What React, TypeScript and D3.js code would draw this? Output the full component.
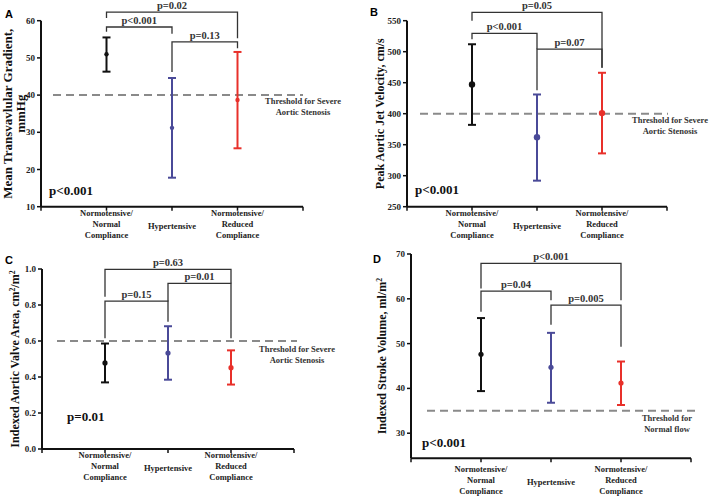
import * as d3 from "d3";

// group labels (shared by all four panels)
const groupLabels: string[][] = [
  ["Normotensive/", "Normal", "Compliance"],
  ["Hypertensive"],
  ["Normotensive/", "Reduced", "Compliance"],
];
const groupColors = ["#111111", "#4a4a98", "#e8302a"];

// A: mean transvalvular gradient, mmHg
const gradientMean = [51.0, 31.2, 38.7];
const gradientUpper = [55.5, 44.6, 51.6];
const gradientLower = [46.3, 17.8, 25.7];
const gradientTicks = [10, 20, 30, 40, 50, 60];

// B: peak aortic jet velocity, cm/s
const velocityMean = [447, 362, 401];
const velocityUpper = [512, 431, 466];
const velocityLower = [382, 292, 336];
const velocityTicks = [250, 300, 350, 400, 450, 500, 550];

// C: indexed aortic valve area, cm2/m2
const areaMean = [0.478, 0.533, 0.452];
const areaUpper = [0.586, 0.682, 0.548];
const areaLower = [0.37, 0.385, 0.358];
const areaTicks = [0, 0.2, 0.4, 0.6, 0.8, 1.0];

// D: indexed stroke volume, ml/m2
const strokeMean = [47.6, 44.7, 41.2];
const strokeUpper = [55.7, 52.4, 46.0];
const strokeLower = [39.4, 36.8, 36.3];
const strokeTicks = [30, 40, 50, 60, 70];

type Bracket = { a: number; b: number; top: number; endA: number; endB: number; label: string };

const gradientBrackets: Bracket[] = [
  { a: 1, b: 3, top: 62.3, endA: 60.7, endB: 55.3, label: "p=0.02" },
  { a: 1, b: 2, top: 58.3, endA: 57.0, endB: 56.5, label: "p<0.001" },
  { a: 2, b: 3, top: 54.3, endA: 46.2, endB: 52.6, label: "p=0.13" },
];
const velocityBrackets: Bracket[] = [
  { a: 1, b: 3, top: 563.5, endA: 550, endB: 474, label: "p=0.05" },
  { a: 1, b: 2, top: 529.7, endA: 520, endB: 504, label: "p<0.001" },
  { a: 2, b: 3, top: 504, endA: 438, endB: 474, label: "p=0.07" },
];
const areaBrackets: Bracket[] = [
  { a: 1, b: 3, top: 0.998, endA: 0.846, endB: 0.92, label: "p=0.63" },
  { a: 2, b: 3, top: 0.92, endA: 0.707, endB: 0.615, label: "p=0.01" },
  { a: 1, b: 2, top: 0.822, endA: 0.615, endB: 0.82, label: "p=0.15" },
];
const strokeBrackets: Bracket[] = [
  { a: 1, b: 3, top: 67.9, endA: 62.3, endB: 59.7, label: "p<0.001" },
  { a: 1, b: 2, top: 61.7, endA: 57.1, endB: 59.7, label: "p=0.04" },
  { a: 2, b: 3, top: 58.6, endA: 54.2, endB: 49.3, label: "p=0.005" },
];

const serif = "'Liberation Serif', 'Times New Roman', serif";
const sans = "'Liberation Sans', Arial, sans-serif";

type PanelProps = {
  letter: string;
  letterPos: [number, number];
  x0: number;
  x1: number;
  yTop: number;
  yBottom: number;
  domain: [number, number];
  ticks: number[];
  tickFormat: (v: number) => string;
  mean: number[];
  upper: number[];
  lower: number[];
  brackets: Bracket[];
  threshold: number;
  thresholdLines: string[];
  thresholdX: number;
  thresholdDy: number;
  dashStart: number;
  dashEnd: number;
  overall: string;
  overallPos: [number, number];
  yLabel: React.ReactNode[];
  yLabelX: number[];
  yLabelSize: number;
  dotR: number;
  catY: number;
};

function Panel(p: PanelProps) {
  const x = d3.scaleLinear().domain([0, 4]).range([p.x0, p.x1]);
  const y = d3.scaleLinear().domain(p.domain).range([p.yBottom, p.yTop]);
  const yMid = (p.yTop + p.yBottom) / 2;
  const cap = 4;
  return (
    <g>
      <text x={p.letterPos[0]} y={p.letterPos[1]} fontFamily={sans} fontWeight="bold" fontSize={11}>
        {p.letter}
      </text>
      {/* y axis */}
      <line x1={p.x0} x2={p.x0} y1={y(p.domain[1])} y2={p.yBottom} stroke="#111" strokeWidth={2} />
      {p.ticks.map((t) => (
        <g key={t}>
          <line x1={p.x0 - 4} x2={p.x0} y1={y(t)} y2={y(t)} stroke="#111" strokeWidth={1.5} />
          <text x={p.x0 - 6} y={y(t)} dy="0.34em" textAnchor="end" fontFamily={serif} fontWeight="bold" fontSize={9} fill="#222">
            {p.tickFormat(t)}
          </text>
        </g>
      ))}
      {/* x axis */}
      <line x1={p.x0} x2={p.x1} y1={p.yBottom} y2={p.yBottom} stroke="#111" strokeWidth={2} />
      {[0, 1, 2, 3, 4].map((t) => (
        <line key={t} x1={x(t)} x2={x(t)} y1={p.yBottom} y2={p.yBottom + 4} stroke="#111" strokeWidth={1.5} />
      ))}
      {groupLabels.map((lines, i) => (
        <text key={i} x={x(i + 1)} textAnchor="middle" fontFamily={serif} fontWeight="bold" fontSize={8.5} fill="#222">
          {lines.map((l, j) => (
            <tspan key={j} x={x(i + 1)} y={lines.length === 1 ? p.catY + 13 : p.catY + j * 10.8}>
              {l}
            </tspan>
          ))}
        </text>
      ))}
      {/* y label */}
      <text
        transform={`translate(${p.yLabelX[0]},${yMid}) rotate(-90)`}
        textAnchor="middle"
        fontFamily={serif}
        fontWeight="bold"
        fontSize={p.yLabelSize}
        fill="#111"
      >
        {p.yLabel.map((l, j) => (
          <tspan key={j} x={0} y={p.yLabelX[j] - p.yLabelX[0]}>
            {l}
          </tspan>
        ))}
      </text>
      {/* threshold */}
      <line
        x1={p.dashStart}
        x2={p.dashEnd}
        y1={y(p.threshold)}
        y2={y(p.threshold)}
        stroke="#8a8a8a"
        strokeWidth={2}
        strokeDasharray="8,5"
      />
      <text textAnchor="middle" fontFamily={serif} fontWeight="bold" fontSize={8.5} fill="#333">
        {p.thresholdLines.map((l, j) => (
          <tspan key={j} x={p.thresholdX} y={y(p.threshold) + p.thresholdDy + j * 11}>
            {l}
          </tspan>
        ))}
      </text>
      {/* brackets */}
      {p.brackets.map((b, i) => (
        <g key={i}>
          <path
            d={`M${x(b.a)},${y(b.endA)}V${y(b.top)}H${x(b.b)}V${y(b.endB)}`}
            fill="none"
            stroke="#333"
            strokeWidth={1.3}
          />
          <text
            x={(x(b.a) + x(b.b)) / 2}
            y={y(b.top) - 3}
            textAnchor="middle"
            fontFamily={serif}
            fontWeight="bold"
            fontSize={10.5}
            fill="#333"
          >
            {b.label}
          </text>
        </g>
      ))}
      {/* error bars */}
      {p.mean.map((m, i) => {
        const cx = x(i + 1);
        const c = groupColors[i];
        return (
          <g key={i}>
            <line x1={cx} x2={cx} y1={y(p.upper[i])} y2={y(p.lower[i])} stroke={c} strokeWidth={2} />
            <line x1={cx - cap} x2={cx + cap} y1={y(p.upper[i])} y2={y(p.upper[i])} stroke={c} strokeWidth={2} />
            <line x1={cx - cap} x2={cx + cap} y1={y(p.lower[i])} y2={y(p.lower[i])} stroke={c} strokeWidth={2} />
            <circle cx={cx} cy={y(m)} r={p.dotR} fill={c} />
          </g>
        );
      })}
      <text x={p.overallPos[0]} y={p.overallPos[1]} fontFamily={serif} fontWeight="bold" fontSize={13} fill="#111">
        {p.overall}
      </text>
    </g>
  );
}

export default function App() {
  const sup = (s: string) => (
    <tspan baselineShift="super" fontSize="0.65em">
      {s}
    </tspan>
  );
  return (
    <div style={{ position: "absolute", left: 0, top: 0 }}>
      <svg width={709} height={496} style={{ display: "block", background: "#fff" }}>
        <Panel
          letter="A"
          letterPos={[5, 18]}
          x0={41}
          x1={303}
          yTop={20.7}
          yBottom={206.7}
          domain={[10, 60]}
          ticks={gradientTicks}
          tickFormat={(v) => String(v)}
          mean={gradientMean}
          upper={gradientUpper}
          lower={gradientLower}
          brackets={gradientBrackets}
          threshold={40}
          thresholdLines={["Threshold for Severe", "Aortic Stenosis"]}
          thresholdX={303}
          thresholdDy={9}
          dashStart={53}
          dashEnd={303}
          overall="p<0.001"
          overallPos={[49, 195]}
          yLabel={["Mean Transvavlular Gradient,", "mmHg"]}
          yLabelX={[11.5, 25]}
          yLabelSize={13}
          dotR={2.2}
          catY={216}
        />
        <Panel
          letter="B"
          letterPos={[370, 16]}
          x0={407}
          x1={667}
          yTop={20.7}
          yBottom={206.7}
          domain={[250, 550]}
          ticks={velocityTicks}
          tickFormat={(v) => String(v)}
          mean={velocityMean}
          upper={velocityUpper}
          lower={velocityLower}
          brackets={velocityBrackets}
          threshold={400}
          thresholdLines={["Threshold for Severe", "Aortic Stenosis"]}
          thresholdX={670}
          thresholdDy={9.5}
          dashStart={420}
          dashEnd={668}
          overall="p<0.001"
          overallPos={[415, 194]}
          yLabel={["Peak Aortic Jet Velocity, cm/s"]}
          yLabelX={[384]}
          yLabelSize={12}
          dotR={3.2}
          catY={216}
        />
        <Panel
          letter="C"
          letterPos={[5, 264]}
          x0={42}
          x1={294}
          yTop={269}
          yBottom={449}
          domain={[0, 1]}
          ticks={areaTicks}
          tickFormat={d3.format(".1f")}
          mean={areaMean}
          upper={areaUpper}
          lower={areaLower}
          brackets={areaBrackets}
          threshold={0.6}
          thresholdLines={["Threshold for Severe", "Aortic Stenosis"]}
          thresholdX={297}
          thresholdDy={10.5}
          dashStart={57}
          dashEnd={297}
          overall="p=0.01"
          overallPos={[67, 421]}
          yLabel={[["Indexed Aortic Valve Area, cm", sup("2"), "/m", sup("2")]]}
          yLabelX={[18.5]}
          yLabelSize={12}
          dotR={2.6}
          catY={458}
        />
        <Panel
          letter="D"
          letterPos={[373, 263]}
          x0={411}
          x1={691}
          yTop={254}
          yBottom={458.3}
          domain={[24.4, 70]}
          ticks={strokeTicks}
          tickFormat={(v) => String(v)}
          mean={strokeMean}
          upper={strokeUpper}
          lower={strokeLower}
          brackets={strokeBrackets}
          threshold={35}
          thresholdLines={["Threshold for", "Normal flow"]}
          thresholdX={667}
          thresholdDy={10}
          dashStart={427}
          dashEnd={695}
          overall="p<0.001"
          overallPos={[422, 447]}
          yLabel={[["Indexed Stroke Volume, ml/m", sup("2")]]}
          yLabelX={[386]}
          yLabelSize={12}
          dotR={2.6}
          catY={472}
        />
      </svg>
    </div>
  );
}
